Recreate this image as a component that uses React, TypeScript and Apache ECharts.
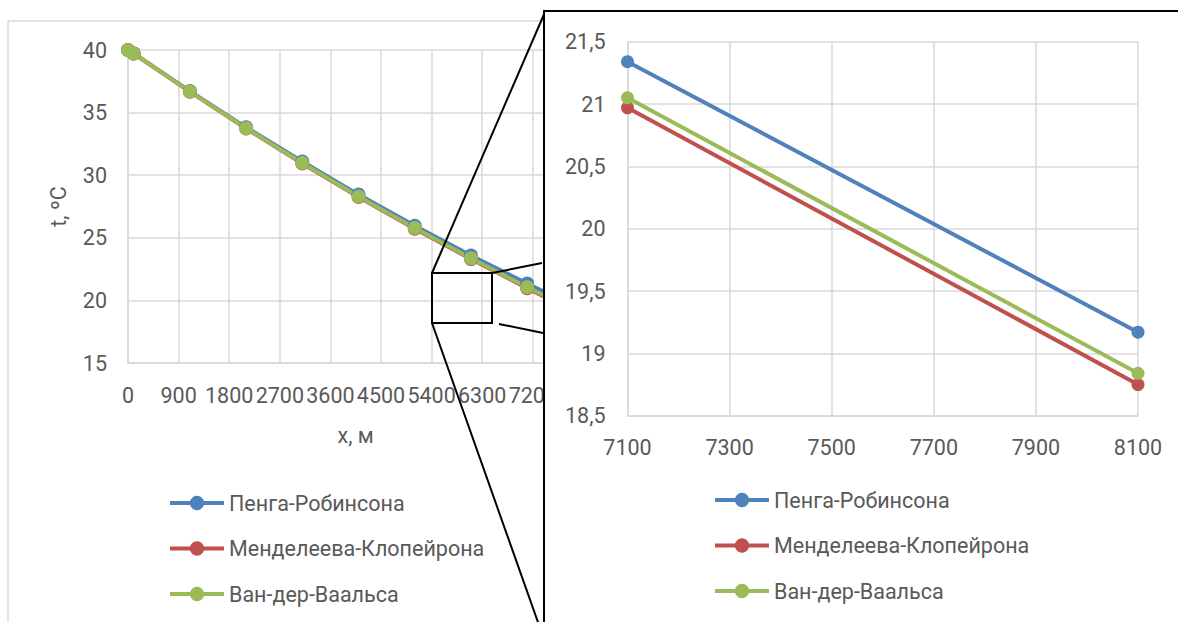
import React, { useEffect, useRef } from "react";
import * as echarts from "echarts";

const seriesNames = ["Пенга-Робинсона", "Менделеева-Клопейрона", "Ван-дер-Ваальса"];
const seriesColors = ["#4F81BD", "#C0504D", "#9BBB59"];
const xValues = [0, 100, 1100, 2100, 3100, 4100, 5100, 6100, 7100, 8100];
const pengRobinson = [40, 39.73, 36.72, 33.82, 31.09, 28.45, 25.96, 23.58, 21.34, 19.17];
const mendeleevClapeyron = [40, 39.72, 36.67, 33.73, 30.94, 28.26, 25.73, 23.3, 20.97, 18.75];
const vanDerWaals = [40, 39.72, 36.68, 33.75, 30.97, 28.3, 25.78, 23.36, 21.05, 18.84];

const leftXAxis = { min: 0, max: 8100, interval: 900 };
const leftYAxis = { min: 15, max: 40, interval: 5 };
const insetXAxis = { min: 7100, max: 8100, interval: 200 };
const insetYAxis = { min: 18.5, max: 21.5, interval: 0.5 };

const FONT = "Roboto";
const FS = 21.5;
const TEXT = "#595959";
const GRID = "#D9D9D9";

const allSeries = [pengRobinson, mendeleevClapeyron, vanDerWaals];

function buildSeries(xMin: number, xMax: number, symbolSize: number) {
  return allSeries.map((vals, i) => ({
    name: seriesNames[i],
    type: "line",
    data: xValues
      .map((x, j) => [x, vals[j]])
      .filter((p) => p[0] >= xMin && p[0] <= xMax),
    symbol: "circle",
    symbolSize,
    showSymbol: true,
    color: seriesColors[i],
    itemStyle: { color: seriesColors[i] },
    lineStyle: { color: seriesColors[i], width: 4 },
  }));
}

function axisCommon() {
  return {
    axisLine: { show: true, lineStyle: { color: GRID, width: 1.5 } },
    axisTick: { show: false },
    splitLine: { show: true, lineStyle: { color: GRID, width: 1.5 } },
  };
}

function legend(left: number, top: number) {
  return {
    orient: "vertical",
    left,
    top,
    padding: 0,
    itemWidth: 54,
    itemHeight: 18,
    itemGap: 23.5,
    lineStyle: { width: 4 },
    textStyle: { fontSize: FS, color: TEXT, fontFamily: FONT },
    data: seriesNames,
  };
}

const plain = (v: number) => String(v);

export default function App() {
  const leftRef = useRef<HTMLDivElement>(null);
  const insetRef = useRef<HTMLDivElement>(null);

  useEffect(() => {
    const left = echarts.init(leftRef.current!, null, { renderer: "svg" });
    const inset = echarts.init(insetRef.current!, null, { renderer: "svg" });

    left.setOption({
      animation: false,
      textStyle: { fontFamily: FONT },
      grid: { left: 128, top: 50, width: 455.4, height: 313 },
      xAxis: {
        type: "value",
        ...leftXAxis,
        ...axisCommon(),
        name: "x, м",
        nameLocation: "middle",
        nameGap: 61,
        nameTextStyle: { fontSize: FS, color: TEXT, fontFamily: FONT },
        axisLabel: { fontSize: FS, color: TEXT, fontFamily: FONT, margin: 21, formatter: plain, showMaxLabel: false },
      },
      yAxis: {
        type: "value",
        ...leftYAxis,
        ...axisCommon(),
        name: "t, ºC",
        nameLocation: "middle",
        nameGap: 59,
        nameTextStyle: { fontSize: FS, color: TEXT, fontFamily: FONT },
        axisLabel: { fontSize: FS, color: TEXT, fontFamily: FONT, margin: 21, formatter: plain },
      },
      legend: legend(168, 492),
      series: buildSeries(leftXAxis.min, leftXAxis.max, 14),
      graphic: [
        {
          type: "rect",
          shape: { x: 8, y: 21, width: 1200, height: 1000 },
          style: { fill: "none", stroke: GRID, lineWidth: 1.5 },
          silent: true,
        },
        {
          type: "rect",
          shape: { x: 432, y: 273, width: 60, height: 50 },
          style: { fill: "none", stroke: "#000", lineWidth: 2 },
          z: 100,
        },
        { type: "line", shape: { x1: 432, y1: 273, x2: 545, y2: 12 }, style: { stroke: "#000", lineWidth: 2 }, z: 100 },
        { type: "line", shape: { x1: 432, y1: 323, x2: 545, y2: 642 }, style: { stroke: "#000", lineWidth: 2 }, z: 100 },
        { type: "line", shape: { x1: 492, y1: 273, x2: 542, y2: 263 }, style: { stroke: "#000", lineWidth: 2 }, z: 100 },
        { type: "line", shape: { x1: 499, y1: 324, x2: 548, y2: 334 }, style: { stroke: "#000", lineWidth: 2 }, z: 100 },
      ],
    });

    inset.setOption({
      animation: false,
      textStyle: { fontFamily: FONT },
      grid: { left: 82.5, top: 29.7, width: 510.5, height: 374 },
      xAxis: {
        type: "value",
        ...insetXAxis,
        ...axisCommon(),
        axisLabel: { fontSize: FS, color: TEXT, fontFamily: FONT, margin: 21, formatter: plain },
      },
      yAxis: {
        type: "value",
        ...insetYAxis,
        ...axisCommon(),
        axisLabel: {
          fontSize: FS,
          color: TEXT,
          fontFamily: FONT,
          margin: 22,
          formatter: (v: number) => String(v).replace(".", ","),
        },
      },
      legend: legend(168, 477),
      series: buildSeries(insetXAxis.min, insetXAxis.max, 13),
    });

    return () => {
      left.dispose();
      inset.dispose();
    };
  }, []);

  return (
    <div
      style={{
        position: "absolute",
        left: 0,
        top: 0,
        width: 1178,
        height: 622,
        overflow: "hidden",
        background: "#fff",
      }}
    >
      <div ref={leftRef} style={{ position: "absolute", left: 0, top: 0, width: 1178, height: 622 }} />
      <div
        style={{
          position: "absolute",
          left: 543,
          top: 10,
          width: 700,
          height: 700,
          border: "2px solid #000",
          background: "#fff",
        }}
      >
        <div ref={insetRef} style={{ position: "absolute", left: 0, top: 0, width: 640, height: 612 }} />
      </div>
    </div>
  );
}
